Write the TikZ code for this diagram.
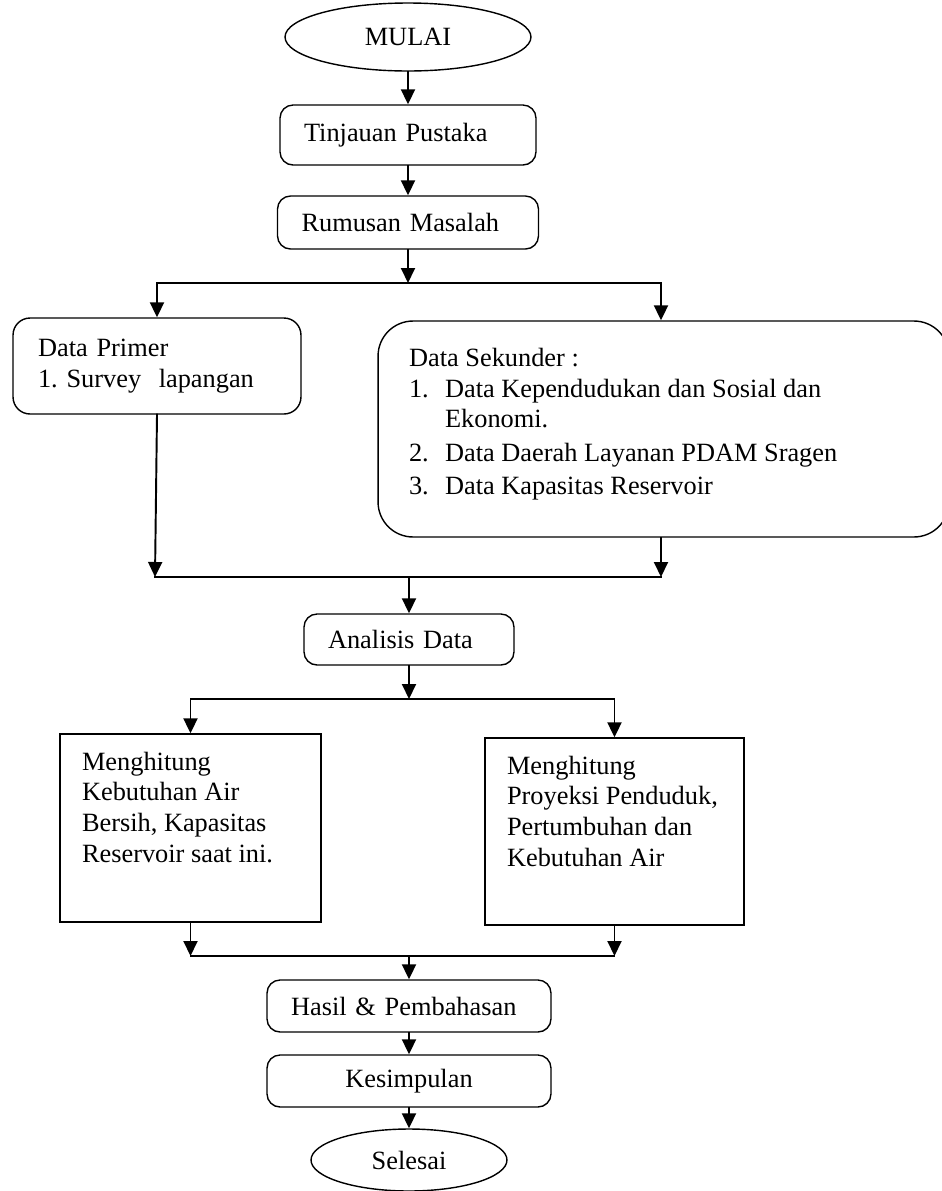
\documentclass[tikz,border=0pt]{standalone}
\usepackage{fontspec}
\setmainfont{Liberation Serif}
\usepackage{tikz}
\usetikzlibrary{arrows.meta,shapes.geometric}

\begin{document}
\begin{tikzpicture}[x=0.02cm, y=-0.02cm,
>={Triangle[length=0.3cm,width=0.28cm]},
font=\fontsize{15}{17.4}\selectfont\frenchspacing,
term/.style={ellipse, draw, line width=0.8pt, inner sep=0pt},
proc/.style={rectangle, draw, line width=0.8pt, rounded corners=0.26cm, inner xsep=0.48cm, inner ysep=0pt, align=left},
calcbox/.style={rectangle, draw, line width=0.8pt, inner xsep=0.44cm, inner ysep=0pt},
flow/.style={line width=1.1pt, line cap=rect}
]
\useasboundingbox (0,0) rectangle (942,1191);
% Create the main steps
\node[term, minimum width=4.92cm, minimum height=1.36cm] (mulai) at (408,37) {MULAI};
\node[proc, text width=4.16cm, minimum height=1.2cm] (tinjauan) at (408,135) {Tinjauan Pustaka};
\node[proc, text width=4.26cm, minimum height=1.06cm] (rumusan) at (408,222.5) {Rumusan Masalah};
\node[proc, rounded corners=0.34cm, inner xsep=0.5cm, text width=4.76cm, minimum height=1.92cm] (primer) at (157,366)
  {Data Primer\\1. Survey~~lapangan};
\node[proc, rounded corners=0.7cm, inner xsep=0.62cm] (sekunder) at (663.5,429)
  {\parbox[c][4.32cm][t]{10.18cm}{\vspace{0.55cm}Data Sekunder :\\
  \makebox[0.72cm][l]{1.}Data Kependudukan dan Sosial dan\\
  \hspace*{0.72cm}Ekonomi.\\[1.5pt]
  \makebox[0.72cm][l]{2.}Data Daerah Layanan PDAM Sragen\\[1.5pt]
  \makebox[0.72cm][l]{3.}Data Kapasitas Reservoir}};
\node[proc, text width=3.24cm, minimum height=1.02cm] (analisis) at (409,639.5) {Analisis Data};
\node[calcbox] (hitungA) at (190.5,828)
  {\parbox[c][3.76cm][t]{4.34cm}{\vspace{0.36cm}Menghitung\\Kebutuhan Air\\Bersih, Kapasitas\\Reservoir saat ini.}};
\node[calcbox] (hitungB) at (614.5,831.5)
  {\parbox[c][3.74cm][t]{4.30cm}{\vspace{0.36cm}Menghitung\\Proyeksi Penduduk,\\Pertumbuhan dan\\Kebutuhan Air}};
\node[proc, text width=4.72cm, minimum height=1.04cm] (hasil) at (409,1006) {Hasil \& Pembahasan};
\node[proc, text width=4.72cm, minimum height=1.04cm, align=center] (kesimpulan) at (409,1081) {Kesimpulan};
\node[term, minimum width=3.92cm, minimum height=1.24cm] (selesai) at (409,1160) {Selesai};
% Branch and merge points
\coordinate (brA) at (408,283);
\coordinate (brAL) at (157,283);
\coordinate (brAR) at (661,283);
\coordinate (mgL) at (155,577);
\coordinate (mgR) at (661,577);
\coordinate (mgA) at (409,577);
\coordinate (brB) at (409,699);
\coordinate (mgB) at (409,956);
% Connect the steps
\draw[flow,->] (mulai.south) -- (mulai.south |- tinjauan.north);
\draw[flow,->] (tinjauan.south) -- (rumusan.north);
\draw[flow,->] (rumusan.south) -- (brA);
\draw[flow,<->] (primer.north) -- (brAL) -- (brAR) -- (brAR |- sekunder.north);
\draw[flow,->] (primer.south) -- (mgL);
\draw[flow,->] (mgR |- sekunder.south) -- (mgR);
\draw[flow] (mgL) -- (mgR);
\draw[flow,->] (mgA) -- (analisis.north);
\draw[flow,->] (analisis.south) -- (brB);
\draw[flow,<->] (hitungA.north) -- (hitungA.north |- brB) -- (hitungB.north |- brB) -- (hitungB.north);
\draw[flow,->] (hitungA.south) -- (hitungA.south |- mgB);
\draw[flow,->] (hitungB.south) -- (hitungB.south |- mgB);
\draw[flow] (hitungA.south |- mgB) -- (hitungB.south |- mgB);
\draw[flow,->] (mgB) -- (hasil.north);
\draw[flow,->] (hasil.south) -- (kesimpulan.north);
\draw[flow,->] (kesimpulan.south) -- (selesai.north);
\end{tikzpicture}
\end{document}
